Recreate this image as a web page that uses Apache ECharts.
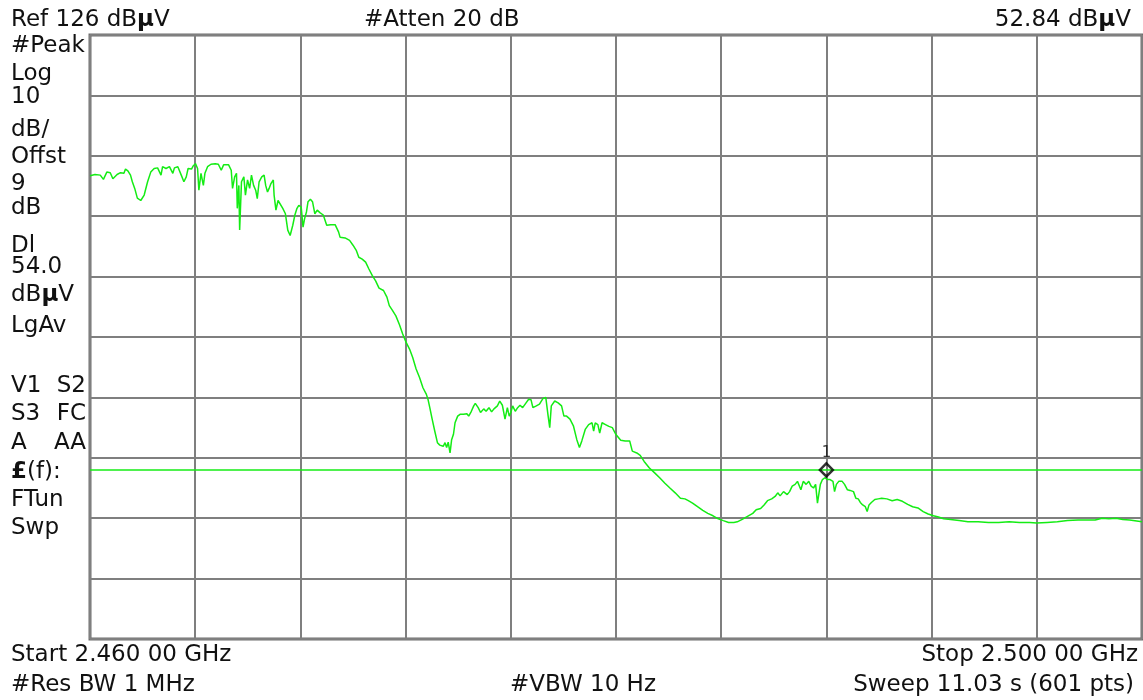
<!DOCTYPE html>
<html>
<head>
<meta charset="utf-8">
<script src="https://cdn.jsdelivr.net/npm/echarts@6/dist/echarts.min.js"></script>
<style>
  html, body { margin: 0; padding: 0; background: #ffffff; }
  #chart { width: 1143px; height: 700px; }
</style>
</head>
<body>
<div id="chart"></div>
<script>
// Sweep settings (MHz / dBµV)
const startMHz = 2460;
const stopMHz = 2500;
const divMHz = 4;
const refLevel = 126;
const dbPerDiv = 10;
const divisions = 10;
const displayLine = 54.0;
const markerFreq = 2488.0;
const markerLevel = 52.84;

// Trace frequencies (MHz)
const freqMHz = [
  2460.00, 2460.19, 2460.39, 2460.51, 2460.64, 2460.77, 2460.87, 2461.03, 2461.16, 2461.22,
  2461.29, 2461.35, 2461.44, 2461.54, 2461.61, 2461.70, 2461.80, 2461.93, 2462.06, 2462.19,
  2462.31, 2462.44, 2462.57, 2462.70, 2462.76, 2462.89, 2463.02, 2463.15, 2463.21, 2463.34,
  2463.47, 2463.57, 2463.66, 2463.73, 2463.86, 2463.92, 2464.01, 2464.09, 2464.14, 2464.22,
  2464.31, 2464.37, 2464.47, 2464.60, 2464.76, 2464.88, 2464.99, 2465.08, 2465.27, 2465.37,
  2465.42, 2465.50, 2465.57, 2465.60, 2465.66, 2465.69, 2465.76, 2465.85, 2465.91, 2465.99,
  2466.07, 2466.14, 2466.22, 2466.30, 2466.36, 2466.43, 2466.53, 2466.62, 2466.68, 2466.75,
  2466.81, 2466.88, 2466.97, 2467.00, 2467.07, 2467.15, 2467.22, 2467.33, 2467.43, 2467.52,
  2467.61, 2467.71, 2467.79, 2467.87, 2467.94, 2468.03, 2468.10, 2468.16, 2468.23, 2468.29,
  2468.38, 2468.46, 2468.55, 2468.64, 2468.74, 2468.87, 2468.93, 2469.00, 2469.15, 2469.32,
  2469.45, 2469.51, 2469.58, 2469.70, 2469.87, 2470.00, 2470.13, 2470.22, 2470.35, 2470.48,
  2470.60, 2470.73, 2470.86, 2470.99, 2471.16, 2471.29, 2471.38, 2471.50, 2471.63, 2471.76,
  2471.89, 2472.02, 2472.15, 2472.27, 2472.40, 2472.53, 2472.66, 2472.79, 2472.85, 2472.92,
  2473.01, 2473.11, 2473.21, 2473.30, 2473.43, 2473.50, 2473.56, 2473.62, 2473.69, 2473.75,
  2473.82, 2473.88, 2473.98, 2474.07, 2474.20, 2474.33, 2474.40, 2474.50, 2474.59, 2474.65,
  2474.76, 2474.85, 2474.97, 2475.06, 2475.17, 2475.27, 2475.36, 2475.49, 2475.58, 2475.68,
  2475.78, 2475.87, 2475.94, 2476.00, 2476.07, 2476.17, 2476.26, 2476.35, 2476.45, 2476.58,
  2476.68, 2476.77, 2476.84, 2476.97, 2477.09, 2477.22, 2477.33, 2477.42, 2477.48, 2477.54,
  2477.67, 2477.80, 2477.93, 2478.02, 2478.12, 2478.25, 2478.38, 2478.51, 2478.61, 2478.70,
  2478.83, 2478.96, 2479.09, 2479.15, 2479.21, 2479.31, 2479.38, 2479.47, 2479.60, 2479.73,
  2479.86, 2479.99, 2480.18, 2480.35, 2480.52, 2480.62, 2480.79, 2480.92, 2481.07, 2481.27,
  2481.47, 2481.66, 2481.86, 2482.05, 2482.25, 2482.45, 2482.62, 2482.75, 2482.91, 2483.10,
  2483.30, 2483.49, 2483.69, 2483.89, 2484.08, 2484.28, 2484.48, 2484.61, 2484.80, 2485.00,
  2485.20, 2485.33, 2485.50, 2485.63, 2485.76, 2485.92, 2486.05, 2486.15, 2486.24, 2486.37,
  2486.51, 2486.60, 2486.70, 2486.81, 2486.90, 2486.96, 2487.03, 2487.12, 2487.23, 2487.33,
  2487.42, 2487.51, 2487.59, 2487.66, 2487.72, 2487.77, 2487.85, 2487.94, 2488.00, 2488.04,
  2488.14, 2488.25, 2488.31, 2488.38, 2488.47, 2488.60, 2488.69, 2488.80, 2488.90, 2489.03,
  2489.12, 2489.21, 2489.29, 2489.38, 2489.48, 2489.55, 2489.62, 2489.71, 2489.84, 2489.97,
  2490.10, 2490.30, 2490.50, 2490.69, 2490.89, 2491.09, 2491.28, 2491.48, 2491.68, 2491.87,
  2492.07, 2492.26, 2492.46, 2492.72, 2493.05, 2493.38, 2493.77, 2494.16, 2494.55, 2494.95,
  2495.34, 2495.73, 2495.99, 2496.39, 2496.78, 2497.17, 2497.57, 2497.96, 2498.22, 2498.48,
  2498.74, 2499.01, 2499.27, 2499.53, 2500.00
];

// Trace levels (dBµV), one per frequency above
const levelDbuV = [
  102.7, 102.9, 102.8, 102.1, 103.3, 103.2, 102.2, 102.9, 103.2, 103.5,
  103.1, 103.8, 103.5, 102.8, 101.7, 100.6, 99.0, 98.6, 99.5, 101.7,
  103.3, 103.9, 104.0, 102.8, 104.2, 103.9, 104.2, 103.1, 104.0, 104.2,
  102.8, 101.7, 102.5, 103.9, 103.8, 104.3, 104.7, 103.9, 100.3, 103.1,
  101.1, 103.1, 104.2, 104.6, 104.7, 104.6, 103.6, 104.5, 104.5, 103.6,
  100.6, 102.5, 103.1, 97.3, 101.1, 93.7, 101.7, 102.5, 99.5, 102.0,
  100.6, 102.8, 101.1, 100.3, 98.9, 101.7, 102.5, 102.8, 101.1, 100.0,
  100.6, 101.4, 102.0, 99.5, 97.0, 98.6, 98.4, 97.3, 96.4, 93.7,
  92.8, 94.5, 96.2, 97.3, 97.8, 97.5, 94.2, 95.6, 96.7, 98.4,
  98.8, 98.4, 96.4, 97.0, 96.6, 96.2, 95.9, 94.5, 94.6, 94.6,
  93.4, 92.5, 92.7, 92.4, 92.0, 91.2, 90.3, 89.2, 88.9, 88.4,
  87.3, 86.2, 85.3, 84.1, 83.7, 82.6, 81.2, 80.4, 79.5, 78.1,
  76.5, 75.1, 74.0, 72.6, 70.7, 69.3, 67.6, 66.5, 65.7, 64.3,
  62.4, 60.4, 58.5, 58.1, 57.9, 58.5, 57.7, 58.6, 56.8, 59.0,
  59.9, 61.8, 62.9, 63.2, 63.2, 63.3, 62.9, 63.7, 64.6, 65.0,
  64.3, 63.5, 64.1, 63.7, 64.3, 63.6, 64.1, 64.6, 65.4, 64.7,
  62.4, 64.3, 62.9, 63.5, 64.6, 63.7, 64.3, 64.7, 64.3, 65.1,
  65.7, 65.6, 64.3, 64.6, 64.9, 65.8, 66.0, 62.9, 61.0, 64.6,
  65.4, 65.1, 64.6, 62.9, 62.9, 62.4, 61.3, 59.0, 57.7, 58.8,
  60.7, 61.5, 61.8, 60.4, 61.8, 61.5, 60.1, 61.8, 61.5, 61.2,
  61.0, 59.9, 58.9, 58.8, 58.8, 57.1, 56.8, 56.4, 55.4, 54.3,
  53.5, 52.7, 51.8, 51.0, 50.2, 49.3, 49.2, 48.9, 48.5, 47.9,
  47.3, 46.8, 46.4, 45.9, 45.6, 45.3, 45.3, 45.4, 45.8, 46.3,
  46.8, 47.4, 47.6, 48.2, 48.9, 49.2, 49.6, 50.2, 49.7, 50.4,
  49.9, 50.4, 51.3, 51.6, 52.1, 52.4, 50.7, 52.1, 51.6, 52.1,
  51.3, 51.0, 51.6, 48.5, 50.2, 51.6, 52.4, 52.7, 52.84, 52.4,
  52.4, 52.1, 50.4, 51.6, 52.1, 52.1, 51.6, 50.7, 50.6, 50.4,
  49.3, 49.2, 48.6, 48.2, 47.9, 47.1, 48.2, 48.6, 49.1, 49.2,
  49.3, 49.2, 48.9, 49.1, 48.8, 48.3, 47.9, 47.7, 47.1, 46.7,
  46.4, 46.2, 45.9, 45.8, 45.6, 45.4, 45.4, 45.3, 45.3, 45.4,
  45.3, 45.3, 45.2, 45.3, 45.4, 45.6, 45.7, 45.7, 45.7, 46.0,
  45.9, 46.0, 45.8, 45.7, 45.4
];

// Annotation texts
const headerLeft = 'Ref 126 dB{b|µ}V';
const headerMid = '#Atten 20 dB';
const headerRight = '52.84 dB{b|µ}V';
const sideTexts = ['#Peak', 'Log', '10', 'dB/', 'Offst', '9', 'dB', 'Dl', '54.0', 'dB{b|µ}V', 'LgAv',
                   'V1', 'S3', 'A', '{b|£}(f):', 'FTun', 'Swp'];
const sideTextsRight = ['S2', 'FC', 'AA'];
const footerLeft = ['Start 2.460 00 GHz', '#Res BW 1 MHz'];
const footerMid = '#VBW 10 Hz';
const footerRight = ['Stop 2.500 00 GHz', 'Sweep 11.03 s (601 pts)'];

// ---- layout & drawing ----
const FONT = '23px "DejaVu Sans", sans-serif';
const BOLD = { font: 'bold 23px "DejaVu Sans", sans-serif' };
const TRACE = '#14ec14';

function txt(text, x, y, align) {
  return {
    type: 'text', x: x, y: y, silent: true,
    style: {
      text: text, font: FONT, fill: '#111111',
      textAlign: align || 'left', textVerticalAlign: 'middle',
      rich: { b: BOLD }
    }
  };
}

const sideY = [46, 74.5, 97.5, 130.5, 157, 184.5, 208, 246.5, 267, 295, 326.5,
               386.5, 414, 443.5, 472.5, 500, 528];
const sideRightY = [386.5, 414, 443.5];

const graphics = [
  txt(headerLeft, 11, 20),
  txt(headerMid, 364, 20),
  txt(headerRight, 1131, 20, 'right'),
  txt(footerLeft[0], 11, 655),
  txt(footerLeft[1], 11, 685),
  txt(footerMid, 510, 685),
  txt(footerRight[0], 1138, 655, 'right'),
  txt(footerRight[1], 1134, 685, 'right')
];
sideTexts.forEach((t, i) => graphics.push(txt(t, 11, sideY[i])));
sideTextsRight.forEach((t, i) => graphics.push(txt(t, 86, sideRightY[i], 'right')));

const trace = freqMHz.map((f, i) => [f, levelDbuV[i]]);

const chart = echarts.init(document.getElementById('chart'), null, { renderer: 'canvas' });
chart.setOption({
  animation: false,
  backgroundColor: '#ffffff',
  grid: {
    left: 90, top: 35, right: 1, bottom: 61,
    show: true, borderColor: '#6e6e6e', borderWidth: 3, backgroundColor: 'transparent'
  },
  xAxis: {
    type: 'value', min: startMHz, max: stopMHz, interval: divMHz,
    axisLine: { show: false }, axisTick: { show: false }, axisLabel: { show: false },
    splitLine: { show: true, lineStyle: { color: '#7f7f7f', width: 2 } }
  },
  yAxis: [
    {
      // level scale in dBµV
      type: 'value', min: refLevel - dbPerDiv * divisions, max: refLevel,
      axisLine: { show: false }, axisTick: { show: false }, axisLabel: { show: false },
      splitLine: { show: false }
    },
    {
      // graticule divisions
      type: 'value', min: 0, max: divisions, interval: 1, position: 'left',
      axisLine: { show: false }, axisTick: { show: false }, axisLabel: { show: false },
      splitLine: { show: true, lineStyle: { color: '#7f7f7f', width: 2 } }
    }
  ],
  graphic: graphics,
  series: [
    {
      type: 'line', yAxisIndex: 0, data: trace, showSymbol: false, symbol: 'none',
      lineStyle: { color: TRACE, width: 1.5 }, z: 3, silent: true,
      markLine: {
        silent: true, symbol: 'none', animation: false,
        label: { show: false },
        lineStyle: { color: TRACE, width: 1.5, type: 'solid' },
        data: [{ yAxis: displayLine }]
      }
    },
    {
      type: 'scatter', yAxisIndex: 0, data: [[markerFreq, markerLevel]],
      symbol: 'diamond', symbolSize: 13, symbolOffset: [0, -7], z: 5, silent: true,
      itemStyle: { color: 'rgba(255,255,255,0)', borderColor: '#000000', borderWidth: 2.5 },
      label: {
        show: true, formatter: '1', position: 'top', distance: 2,
        color: '#111111', fontSize: 15, fontFamily: '"DejaVu Sans", sans-serif'
      }
    }
  ]
});
</script>
</body>
</html>
